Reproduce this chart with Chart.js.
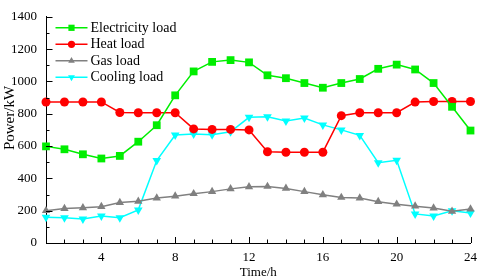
<!DOCTYPE html>
<html>
<head>
<meta charset="utf-8">
<script src="https://cdn.jsdelivr.net/npm/chart.js@4"></script>
<style>
  html, body { margin: 0; padding: 0; background: #fff; }
</style>
</head>
<body>
<canvas id="loadChart" width="484" height="278"></canvas>
<script>
const hours = [1, 2, 3, 4, 5, 6, 7, 8, 9, 10, 11, 12, 13, 14, 15, 16, 17, 18, 19, 20, 21, 22, 23, 24];
const electricityLoad = [598, 580, 549, 523, 539, 627, 729, 914, 1062, 1121, 1132, 1118, 1038, 1020, 990, 961, 990, 1015, 1078, 1104, 1074, 990, 843, 696];
const heatLoad = [873, 873, 873, 873, 808, 806, 806, 806, 706, 703, 703, 700, 565, 562, 562, 562, 788, 806, 806, 806, 872, 876, 876, 876];
const gasLoad = [200, 213, 218, 225, 250, 258, 278, 290, 305, 318, 335, 348, 350, 338, 318, 298, 282, 278, 256, 240, 228, 216, 196, 210];
const coolingLoad = [160, 157, 149, 167, 157, 205, 510, 668, 675, 670, 688, 778, 782, 755, 774, 731, 700, 666, 497, 512, 180, 167, 200, 186];
const xTickLabels = [4, 8, 12, 16, 20, 24];
const yTickLabels = [0, 200, 400, 600, 800, 1000, 1200, 1400];

const serif = '"Liberation Serif", "Times New Roman", serif';

function toPoints(values) {
    return values.map((v, i) => ({ x: hours[i], y: v }));
}

function makeSet(label, values, color, style, radius, rotation) {
    return {
        label: label,
        data: toPoints(values),
        borderColor: color,
        backgroundColor: color,
        borderWidth: 1.5,
        pointStyle: style,
        pointRadius: radius,
        pointHoverRadius: radius,
        pointRotation: rotation || 0,
        pointBorderWidth: 0,
        tension: 0,
        clip: false
    };
}

// ticks that point into the plot, major and minor
const inwardTicks = {
    id: 'inwardTicks',
    afterDatasetsDraw(chart) {
        const ctx = chart.ctx;
        const xs = chart.scales.x;
        const ys = chart.scales.y;
        const area = chart.chartArea;
        ctx.save();
        ctx.strokeStyle = '#000';
        ctx.lineWidth = 1;
        ctx.beginPath();
        for (let h = 1; h <= 24; h++) {
            const px = Math.round(xs.getPixelForValue(h)) + 0.5;
            const len = xTickLabels.includes(h) ? 6 : 3.5;
            ctx.moveTo(px, area.bottom);
            ctx.lineTo(px, area.bottom - len);
        }
        for (let v = 0; v <= 1400; v += 100) {
            const py = Math.round(ys.getPixelForValue(v)) + 0.5;
            const len = yTickLabels.includes(v) ? 6.5 : 3.5;
            ctx.moveTo(area.left, py);
            ctx.lineTo(area.left + len, py);
        }
        ctx.stroke();

        // y axis title, sits a little above the middle like the original
        ctx.fillStyle = '#000';
        ctx.font = '15px ' + serif;
        ctx.textAlign = 'center';
        ctx.textBaseline = 'middle';
        ctx.translate(10, 118);
        ctx.rotate(-Math.PI / 2);
        ctx.fillText('Power/kW', 0, 0);
        ctx.restore();
    }
};

// legend with a line through the marker
const lineLegend = {
    id: 'lineLegend',
    afterDraw(chart) {
        const ctx = chart.ctx;
        const area = chart.chartArea;
        ctx.save();
        ctx.font = '14px ' + serif;
        ctx.textBaseline = 'middle';
        ctx.textAlign = 'left';
        chart.data.datasets.forEach((ds, i) => {
            const y = area.top + 11 + i * 16.5;
            const x0 = area.left + 9.5;
            const x1 = area.left + 41.5;
            ctx.strokeStyle = ds.borderColor;
            ctx.fillStyle = ds.backgroundColor;
            ctx.lineWidth = 1.5;
            ctx.beginPath();
            ctx.moveTo(x0, y);
            ctx.lineTo(x1, y);
            ctx.stroke();
            Chart.helpers.drawPoint(ctx, {
                pointStyle: ds.pointStyle,
                rotation: ds.pointRotation,
                radius: ds.pointRadius * 0.8,
                borderWidth: 0
            }, (x0 + x1) / 2, y);
            ctx.fillStyle = '#000';
            ctx.fillText(ds.label, x1 + 3, y + 0.5);
        });
        ctx.restore();
    }
};

const dataLoads = {
    datasets: [
        makeSet('Electricity load', electricityLoad, '#00ee00', 'rect', 5.5),
        makeSet('Heat load', heatLoad, '#ff0000', 'circle', 4.5),
        makeSet('Gas load', gasLoad, '#808080', 'triangle', 4.8),
        makeSet('Cooling load', coolingLoad, '#00ffff', 'triangle', 5, 180)
    ]
};

const configLoads = {
    type: 'line',
    data: dataLoads,
    plugins: [inwardTicks, lineLegend],
    options: {
        responsive: false,
        animation: false,
        layout: { padding: { left: 0, right: 6, top: 5.5, bottom: 0 } },
        plugins: {
            legend: { display: false },
            tooltip: { enabled: false }
        },
        scales: {
            x: {
                type: 'linear',
                min: 1,
                max: 24,
                afterFit(scale) { scale.height = 35; },
                border: { display: true, color: '#000', width: 1 },
                grid: { display: false, drawTicks: false },
                ticks: {
                    stepSize: 1,
                    autoSkip: false,
                    maxRotation: 0,
                    padding: 7,
                    color: '#000',
                    font: { family: serif, size: 13 },
                    callback: v => xTickLabels.includes(v) ? String(v) : ''
                },
                title: {
                    display: true,
                    text: 'Time/h',
                    color: '#000',
                    font: { family: serif, size: 13, lineHeight: 0.8 },
                    padding: { top: 0, bottom: 0 }
                }
            },
            y: {
                min: 0,
                max: 1400,
                afterFit(scale) { scale.width = 46; },
                border: { display: true, color: '#000', width: 1 },
                grid: { display: false, drawTicks: false },
                ticks: {
                    stepSize: 200,
                    padding: 9,
                    color: '#000',
                    font: { family: serif, size: 13 },
                    callback: v => yTickLabels.includes(v) ? String(v) : ''
                }
            }
        }
    }
};

const chartLoads = new Chart(document.getElementById('loadChart'), configLoads);
</script>
</body>
</html>
